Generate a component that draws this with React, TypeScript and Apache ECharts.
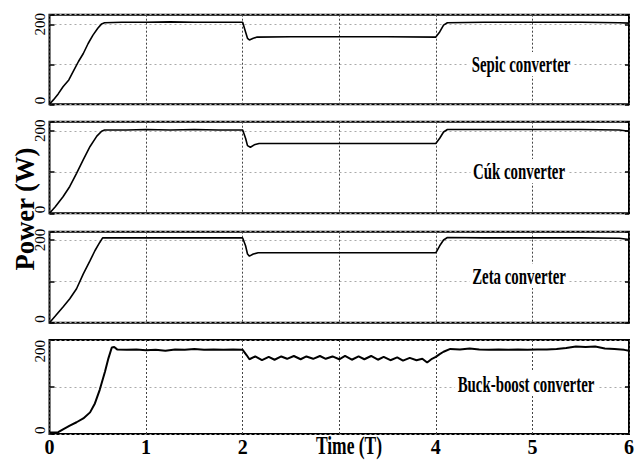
import React, { useEffect, useRef } from "react";
import * as echarts from "echarts";

// ---- Data ----
const xTicks = [0, 1, 2, 3, 4, 5, 6];
const hiddenXTick = 3; // covered by the "Time (T)" title in the reference
const panelNames = ["Sepic converter", "Cúk converter", "Zeta converter", "Buck-boost converter"];
const panelMax = [224, 222, 220, 200];

const sepicT = [0, 0.04, 0.09, 0.14, 0.2, 0.25, 0.3, 0.35, 0.4, 0.45, 0.5, 0.54, 0.57, 0.75, 1.0, 1.25, 1.5, 1.75, 2.0, 2.03, 2.05, 2.07, 2.11, 2.15, 2.5, 3.0, 3.5, 4.0, 4.04, 4.08, 4.12, 4.5, 5.0, 5.5, 5.9, 6.0];
const sepicP = [0, 11, 26, 44, 61, 84, 107, 127, 152, 173, 190, 201, 204, 205, 205, 206, 205, 205, 205, 181, 165, 161, 165, 168, 169, 169, 169, 168, 181, 198, 204, 205, 205, 205, 204, 203];

const cukT = [0, 0.06, 0.14, 0.21, 0.28, 0.35, 0.42, 0.49, 0.54, 0.57, 0.8, 1.0, 1.25, 1.5, 1.75, 2.0, 2.03, 2.05, 2.08, 2.12, 2.17, 2.5, 3.0, 3.5, 4.0, 4.04, 4.08, 4.12, 4.5, 5.0, 5.5, 5.9, 6.0];
const cukP = [0, 16, 40, 65, 97, 130, 162, 187, 199, 202, 202, 203, 202, 203, 202, 202, 182, 164, 160, 166, 169, 169, 169, 169, 169, 182, 197, 203, 203, 203, 203, 202, 199];

const zetaT = [0, 0.06, 0.14, 0.21, 0.28, 0.35, 0.42, 0.47, 0.52, 0.55, 0.8, 1.0, 1.5, 2.0, 2.03, 2.05, 2.07, 2.11, 2.16, 2.5, 3.0, 3.5, 4.0, 4.04, 4.08, 4.12, 4.5, 5.0, 5.5, 5.9, 6.0];
const zetaP = [0, 16, 38, 58, 82, 118, 150, 174, 194, 205, 205, 205, 205, 205, 186, 166, 161, 166, 169, 169, 169, 169, 169, 186, 200, 206, 205, 205, 205, 204, 201];

const buckT = [0, 0.05, 0.09, 0.14, 0.21, 0.28, 0.35, 0.42, 0.47, 0.52, 0.575, 0.61, 0.645, 0.67, 0.7, 0.8, 0.9, 1.0, 1.1, 1.2, 1.3, 1.4, 1.5, 1.6, 1.7, 1.8, 1.9, 2.0, 2.04, 2.07, 2.13, 2.2, 2.27, 2.33, 2.4, 2.46, 2.53, 2.6, 2.66, 2.73, 2.8, 2.86, 2.93, 3.0, 3.06, 3.13, 3.2, 3.26, 3.33, 3.4, 3.46, 3.53, 3.6, 3.66, 3.73, 3.8, 3.86, 3.91, 3.96, 4.0, 4.04, 4.08, 4.15, 4.25, 4.35, 4.45, 4.55, 4.65, 4.75, 4.85, 4.95, 5.05, 5.15, 5.25, 5.35, 5.45, 5.55, 5.65, 5.75, 5.85, 5.95, 6.0];
const buckP = [3, 3, 4, 10, 18, 25, 33, 46, 65, 94, 133, 161, 184, 185, 180, 179, 180, 178, 179, 177, 180, 179, 181, 179, 180, 179, 180, 179, 168, 159, 165, 157, 164, 158, 165, 160, 166, 159, 165, 160, 166, 160, 165, 159, 166, 158, 165, 159, 166, 158, 164, 157, 163, 156, 162, 157, 160, 152, 160, 164, 170, 175, 181, 180, 182, 180, 179, 180, 179, 180, 179, 180, 180, 181, 183, 186, 185, 186, 182, 181, 179, 177];

const seriesT = [sepicT, cukT, zetaT, buckT];
const seriesP = [sepicP, cukP, zetaP, buckP];

// ---- Layout ----
const grids = [
  { left: 49.5, top: 14.7, width: 579.5, height: 89.6 },
  { left: 49.5, top: 121.7, width: 579.5, height: 91.6 },
  { left: 49.5, top: 231.7, width: 579.5, height: 91 },
  { left: 49.5, top: 340, width: 579.5, height: 94 },
];
const labelPos = [
  { x: 521, y: 64 },
  { x: 519, y: 171 },
  { x: 519, y: 276 },
  { x: 526, y: 384 },
];

const SERIF = "'Liberation Serif', 'Times New Roman', serif";

export default function App() {
  const ref = useRef<HTMLDivElement>(null);
  useEffect(() => {
    if (!ref.current) return;
    const chart = echarts.init(ref.current, undefined, { renderer: "svg" });
    const xAxis: any[] = [];
    const yAxis: any[] = [];
    const series: any[] = [];
    grids.forEach((g, i) => {
      xAxis.push({
        type: "value",
        gridIndex: i,
        min: xTicks[0],
        max: xTicks[xTicks.length - 1],
        interval: 1,
        axisLine: { show: false },
        axisTick: { show: false },
        axisLabel: {
          show: i === 3,
          color: "#000",
          fontFamily: SERIF,
          fontWeight: "bold",
          fontSize: 20,
          margin: 3,
          formatter: (v: number) => (v === hiddenXTick ? "" : String(v)),
        },
        splitLine: { show: true, lineStyle: { color: "#444", width: 1, type: [2, 2] } },
      });
      yAxis.push({
        type: "value",
        gridIndex: i,
        min: 0,
        max: panelMax[i],
        interval: 100,
        axisLine: { show: false },
        axisTick: { show: true, inside: true, length: 5, lineStyle: { color: "#000", width: 1.5 } },
        axisLabel: {
          rotate: 90,
          margin: 2,
          color: "#000",
          fontFamily: SERIF,
          fontSize: 15,
          alignMinLabel: "left",
          alignMaxLabel: "right",
          formatter: (v: number) => (v === 0 || v === 200 ? String(v) : ""),
        },
        splitLine: { show: true, lineStyle: { color: "#aaa", width: 1, type: [2, 3] } },
      });
      yAxis.push({
        type: "value",
        gridIndex: i,
        position: "right",
        min: 0,
        max: panelMax[i],
        interval: 100,
        axisLine: { show: false },
        axisTick: { show: true, inside: true, length: 4, lineStyle: { color: "#000", width: 1.5 } },
        axisLabel: { show: false },
        splitLine: { show: false },
      });
      series.push({
        type: "line",
        xAxisIndex: i,
        yAxisIndex: i * 2,
        showSymbol: false,
        symbol: "none",
        lineStyle: { color: "#000", width: i === 3 ? 2 : 1.6 },
        data: seriesT[i].map((t, k) => [t, seriesP[i][k]]),
        z: 3,
      });
    });

    const graphic: any[] = panelNames.map((name, i) => ({
      type: "text",
      x: labelPos[i].x,
      y: labelPos[i].y,
      scaleX: 0.62,
      z: 10,
      style: {
        text: name,
        fontFamily: SERIF,
        fontWeight: "bold",
        fontSize: 24,
        fill: "#000",
        align: "center",
        verticalAlign: "middle",
        backgroundColor: "#fff",
        padding: [0, 4],
      },
    }));
    graphic.push({
      type: "text",
      x: 349,
      y: 446,
      scaleX: 0.7,
      z: 10,
      style: {
        text: "Time (T)",
        fontFamily: SERIF,
        fontWeight: "bold",
        fontSize: 25,
        fill: "#000",
        align: "center",
        verticalAlign: "middle",
      },
    });
    graphic.push({
      type: "text",
      x: 25,
      y: 209,
      rotation: Math.PI / 2,
      scaleX: 0.95,
      style: {
        text: "Power (W)",
        fontFamily: SERIF,
        fontWeight: "bold",
        fontSize: 28,
        fill: "#000",
        align: "center",
        verticalAlign: "middle",
      },
    });

    chart.setOption({
      animation: false,
      backgroundColor: "#fff",
      grid: grids.map((g) => ({
        ...g,
        show: true,
        borderColor: "#000",
        borderWidth: 2,
        backgroundColor: "transparent",
        containLabel: false,
      })),
      xAxis,
      yAxis,
      series,
      graphic,
    });
    return () => chart.dispose();
  }, []);
  return (
    <div
      ref={ref}
      style={{ position: "fixed", left: 0, top: 0, width: 640, height: 461, background: "#fff" }}
    />
  );
}
